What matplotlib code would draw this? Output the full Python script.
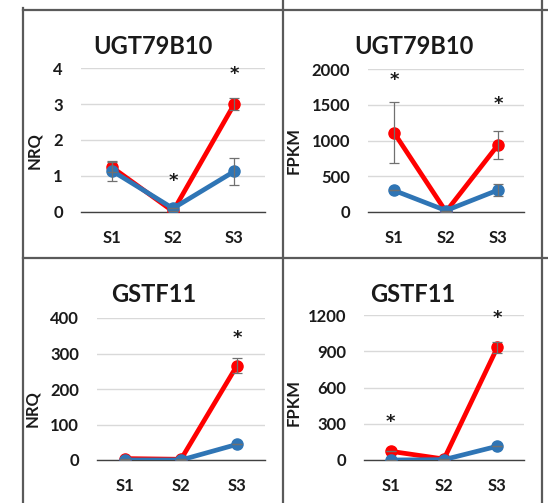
import matplotlib
matplotlib.use("Agg")
import matplotlib.pyplot as plt
from matplotlib.lines import Line2D

plt.rcParams["font.family"] = ["Lato", "DejaVu Sans"]
plt.rcParams["font.weight"] = "bold"

W, H = 548, 503

samples = ["S1", "S2", "S3"]

# UGT79B10 NRQ
ugt_nrq_red = [1.25, 0.02, 3.0]
ugt_nrq_red_err = [0.15, 0.0, 0.16]
ugt_nrq_blue = [1.15, 0.1, 1.13]
ugt_nrq_blue_err = [0.28, 0.0, 0.38]
ugt_nrq_stars = [None, 0.92, 3.9]

# UGT79B10 FPKM
ugt_fpkm_red = [1110, 5, 938]
ugt_fpkm_red_err = [423, 0, 200]
ugt_fpkm_blue = [302, 20, 307]
ugt_fpkm_blue_err = [0, 0, 88]
ugt_fpkm_stars = [1870, None, 1545]

# GSTF11 NRQ
gst_nrq_red = [4, 2, 266]
gst_nrq_red_err = [0, 0, 22]
gst_nrq_blue = [0, 0, 44]
gst_nrq_blue_err = [0, 0, 0]
gst_nrq_stars = [None, None, 350]

# GSTF11 FPKM
gst_fpkm_red = [72, 8, 932]
gst_fpkm_red_err = [0, 0, 48]
gst_fpkm_blue = [0, 3, 114]
gst_fpkm_blue_err = [0, 0, 0]
gst_fpkm_stars = [331, None, 1194]

RED = "#FF0000"
BLUE = "#2F75B5"
GRID = "#D9D9D9"

fig = plt.figure(figsize=(W / 100, H / 100), dpi=100)


def px_axes(left, right, top, bottom):
    return fig.add_axes([left / W, 1 - bottom / H, (right - left) / W, (bottom - top) / H])


def panel(box, title, title_xy, ylabel, ylabel_xy, ymax, ystep,
          red, red_err, blue, blue_err, stars):
    left, right, top, bottom = box
    ax = px_axes(left, right, top, bottom)
    x = range(len(samples))
    ax.plot(x, red, color=RED, lw=3.4, marker="o", ms=8, zorder=3)
    ax.plot(x, blue, color=BLUE, lw=3.4, marker="o", ms=8, zorder=4)
    ax.errorbar(x, red, yerr=red_err, fmt="none", ecolor="#707070",
                elinewidth=0.9, capsize=3.5, capthick=0.9, zorder=5)
    ax.errorbar(x, blue, yerr=blue_err, fmt="none", ecolor="#707070",
                elinewidth=0.9, capsize=3.5, capthick=0.9, zorder=5)
    for i, s in enumerate(stars):
        if s is not None:
            ax.text(i, s, "*", ha="center", va="center_baseline", fontsize=13,
                    family="DejaVu Sans", fontweight="bold", color="#1A1A1A",
                    zorder=6)
    ax.set_xlim(-0.5, 2.5)
    ax.set_ylim(0, ymax)
    ax.set_yticks(range(0, ymax + 1, ystep))
    ax.set_xticks(list(x))
    ax.set_xticklabels(samples)
    ax.tick_params(axis="both", length=0, labelsize=12, colors="#1A1A1A")
    ax.tick_params(axis="y", pad=13)
    ax.tick_params(axis="x", pad=13)
    for lbl in ax.get_xticklabels() + ax.get_yticklabels():
        lbl.set_fontweight("bold")
    ax.grid(axis="y", color=GRID, lw=1.0)
    ax.set_axisbelow(True)
    for sp in ["top", "right", "left"]:
        ax.spines[sp].set_visible(False)
    ax.spines["bottom"].set_color("#404040")
    ax.spines["bottom"].set_linewidth(1.0)
    ax.spines["bottom"].set_zorder(2)
    ax.set_ylabel(ylabel, fontsize=12, fontweight="bold", color="#1A1A1A")
    ax.yaxis.set_label_coords((ylabel_xy[0] - left) / (right - left),
                              (bottom - ylabel_xy[1]) / (bottom - top))
    fig.text(title_xy[0] / W, 1 - title_xy[1] / H, title, ha="center", va="center",
             fontsize=17, fontweight="bold", color="#1A1A1A")
    return ax


panel((81, 265, 68, 212), "UGT79B10", (153, 47), "NRQ", (42, 151), 4, 1,
      ugt_nrq_red, ugt_nrq_red_err, ugt_nrq_blue, ugt_nrq_blue_err, ugt_nrq_stars)
panel((368, 524, 69, 212), "UGT79B10", (414, 47), "FPKM", (302, 150), 2000, 500,
      ugt_fpkm_red, ugt_fpkm_red_err, ugt_fpkm_blue, ugt_fpkm_blue_err, ugt_fpkm_stars)
panel((97, 265, 318, 460), "GSTF11", (154, 295), "NRQ", (40, 409), 400, 100,
      gst_nrq_red, gst_nrq_red_err, gst_nrq_blue, gst_nrq_blue_err, gst_nrq_stars)
panel((364, 524, 315, 460), "GSTF11", (413, 294), "FPKM", (302, 402), 1200, 300,
      gst_fpkm_red, gst_fpkm_red_err, gst_fpkm_blue, gst_fpkm_blue_err, gst_fpkm_stars)

# table-like frame lines around the panels
border = dict(color="#5A5A5A", lw=1.6, transform=fig.transFigure)
fig.add_artist(Line2D([23 / W, 548 / W], [1 - 10 / H, 1 - 10 / H], **border))
fig.add_artist(Line2D([23 / W, 548 / W], [1 - 258 / H, 1 - 258 / H], **border))
fig.add_artist(Line2D([23 / W, 23 / W], [1 - 8 / H, 0], **border))
fig.add_artist(Line2D([283 / W, 283 / W], [1, 0], **border))
fig.add_artist(Line2D([542 / W, 542 / W], [1, 0], **border))

fig.savefig("out.png", dpi=100)
